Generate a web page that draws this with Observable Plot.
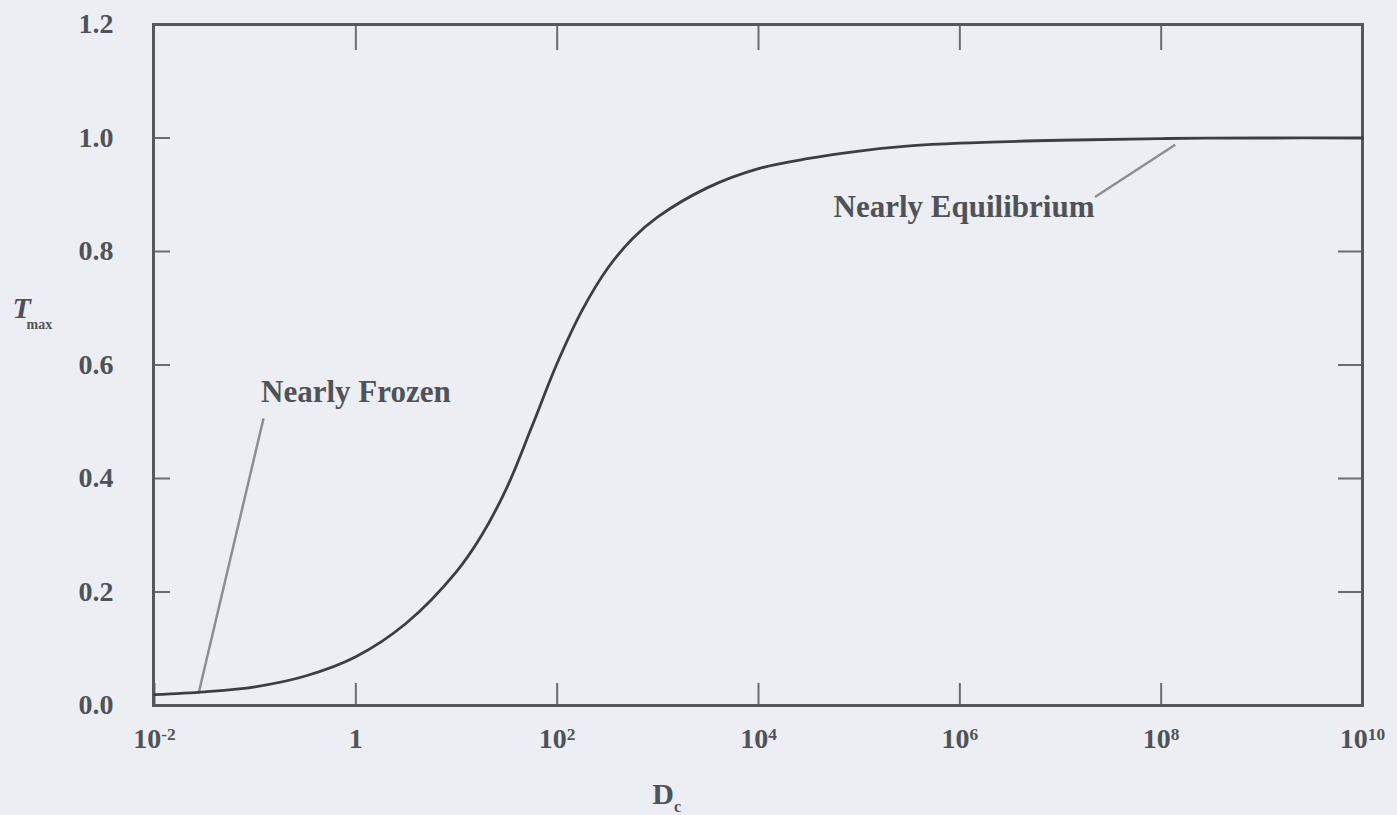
<!DOCTYPE html>
<html>
<head>
<meta charset="utf-8">
<script src="https://cdn.jsdelivr.net/npm/d3@7"></script>
<script src="https://cdn.jsdelivr.net/npm/@observablehq/plot@0.6"></script>
<style>
  html, body { margin: 0; padding: 0; background: #eceef3; }
  #chart svg { display: block; }
</style>
</head>
<body>
<div id="chart"></div>
<script>
// Curve: D (log scale) vs T_max
const curveD = [1e-2, 10**-1.5, 1e-1, 10**-0.5, 1, 10**0.5, 10, 10**1.25, 10**1.5, 10**1.75, 1e2, 10**2.25, 10**2.5, 10**2.75, 1e3, 10**3.5, 1e4, 10**4.5, 1e5, 10**5.5, 1e6, 1e7, 1e8, 1e9, 1e10];
const curveT = [0.019, 0.024, 0.033, 0.052, 0.086, 0.145, 0.236, 0.300, 0.384, 0.492, 0.603, 0.697, 0.770, 0.823, 0.861, 0.913, 0.946, 0.964, 0.977, 0.986, 0.991, 0.996, 0.999, 1.0, 1.0];

// Tick values and labels (exponent of ten)
const xTicks = [1e-2, 1, 1e2, 1e4, 1e6, 1e8, 1e10];
const xTickExponents = ["-2", "0", "2", "4", "6", "8", "10"];
const yTicks = [0, 0.2, 0.4, 0.6, 0.8, 1.0, 1.2];
const yInnerTicks = [0.2, 0.4, 0.6, 0.8, 1.0];

// Annotations
const noteText = ["Nearly Frozen", "Nearly Equilibrium"];
const noteD = [1.0, 1.1e6];
const noteT = [0.552, 0.878];
const pointerD1 = [0.121, 2.2e7];
const pointerT1 = [0.506, 0.896];
const pointerD2 = [0.0274, 1.38e8];
const pointerT2 = [0.021, 0.988];

const curve = curveD.map((d, i) => ({D: d, T: curveT[i]}));
const notes = noteText.map((t, i) => ({text: t, D: noteD[i], T: noteT[i]}));
const pointers = pointerD1.map((d, i) => ({x1: d, y1: pointerT1[i], x2: pointerD2[i], y2: pointerT2[i]}));

const font = "Liberation Serif, Times New Roman, serif";
const ink = "#505257";

const chart = Plot.plot({
  width: 1397,
  height: 815,
  marginLeft: 153,
  marginRight: 35,
  marginTop: 24,
  marginBottom: 110,
  style: {background: "#eceef3", fontFamily: font, fontWeight: "bold", fontSize: "26px", color: ink},
  x: {type: "log", domain: [1e-2, 1e10], range: [154, 1362]},
  y: {domain: [0, 1.2]},
  marks: [
    Plot.axisX(xTicks, {anchor: "bottom", tickSize: -22, tickPadding: 45, stroke: "#6a6c70", strokeWidth: 2,
      tickFormat: d => { const e = xTickExponents[xTicks.indexOf(d)]; return e === "0" ? "1" : "10^" + e; },
      fill: ink, fontSize: 28, fontWeight: "bold", label: null}),
    Plot.axisX(xTicks.slice(1, -1), {anchor: "top", tickSize: -25, tickFormat: () => "", stroke: "#6a6c70", strokeWidth: 2, label: null}),
    Plot.axisY(yTicks, {anchor: "left", tickSize: -17, tickPadding: 57, stroke: "#6a6c70", strokeWidth: 2,
      tickFormat: d => d.toFixed(1), fill: ink, fontSize: 28, fontWeight: "bold", label: null}),
    Plot.axisY(yInnerTicks, {anchor: "right", tickSize: -25, tickFormat: () => "", stroke: "#6a6c70", strokeWidth: 2, label: null}),
    Plot.frame({stroke: "#55575c", strokeWidth: 3}),
    Plot.link(pointers, {x1: "x1", y1: "y1", x2: "x2", y2: "y2", stroke: "#8c8e93", strokeWidth: 2.5}),
    Plot.line(curve, {x: "D", y: "T", stroke: "#3c3e43", strokeWidth: 2.8, curve: "catmull-rom"}),
    Plot.text(notes, {x: "D", y: "T", text: "text", fill: ink, fontSize: 31, fontWeight: "bold", fontFamily: font}),
    Plot.text(["D"], {frameAnchor: "bottom", dx: -95, dy: 98, fill: ink, fontSize: 30, fontWeight: "bold", fontFamily: font, textAnchor: "middle", lineAnchor: "bottom"}),
    Plot.text(["c"], {frameAnchor: "bottom", dx: -84, dy: 106, fill: ink, fontSize: 16, fontWeight: "bold", fontFamily: font, textAnchor: "start", lineAnchor: "bottom"}),
    Plot.text(["T"], {frameAnchor: "left", dx: -141, dy: -57, fill: ink, fontSize: 30, fontStyle: "italic", fontFamily: font, textAnchor: "start"}),
    Plot.text(["max"], {frameAnchor: "left", dx: -127, dy: -46, fill: ink, fontSize: 14, fontWeight: "bold", fontFamily: font, textAnchor: "start", lineAnchor: "top"})
  ]
});

// Render "10^e" tick labels with a real superscript
d3.select(chart).selectAll("text").each(function() {
  const t = this.textContent;
  if (/^10\^/.test(t)) {
    const exp = t.slice(3);
    const sel = d3.select(this);
    sel.text("10");
    sel.append("tspan").attr("dy", "-0.5em").attr("font-size", "62%").text(exp);
  }
});

document.getElementById("chart").appendChild(chart);
</script>
</body>
</html>
